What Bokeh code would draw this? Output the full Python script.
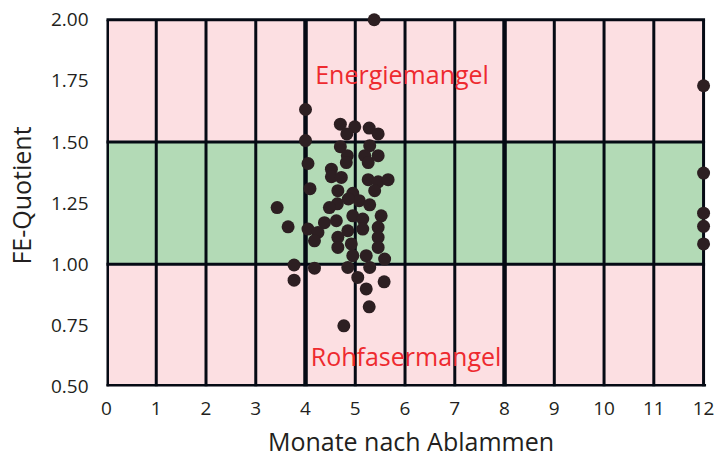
from bokeh.plotting import figure
from bokeh.models import ColumnDataSource, FixedTicker, NumeralTickFormatter
from bokeh.core.properties import value
from bokeh.embed import file_html
from bokeh.resources import INLINE

# Data: months after lambing vs. FE quotient
months = [5.38, 4.00, 4.00, 4.05, 4.09, 3.43, 3.65, 4.70, 4.99, 4.83, 5.28, 5.46,
          4.70, 5.29, 4.84, 4.82, 5.19, 5.26, 5.46, 4.52, 4.52, 4.72, 5.26, 5.46,
          5.66, 5.39, 4.65, 4.95, 5.08, 4.86, 4.64, 4.48, 5.29, 4.95, 5.15, 5.52,
          4.38, 4.62, 4.05, 4.25, 4.18, 4.65, 4.85, 5.15, 5.46, 4.65, 4.92, 5.46,
          5.46, 4.95, 5.22, 5.59, 3.77, 3.77, 4.18, 4.85, 5.29, 5.05, 5.58, 5.22,
          5.28, 4.77, 12.0, 12.0, 12.0, 12.0, 12.0]
fe_quotient = [2.00, 1.633, 1.506, 1.412, 1.309, 1.232, 1.153, 1.573, 1.562, 1.533, 1.557, 1.533,
               1.481, 1.485, 1.444, 1.416, 1.444, 1.416, 1.444, 1.389, 1.358, 1.355, 1.346, 1.337,
               1.346, 1.301, 1.301, 1.290, 1.260, 1.267, 1.247, 1.232, 1.243, 1.198, 1.185, 1.198,
               1.170, 1.178, 1.144, 1.130, 1.096, 1.110, 1.137, 1.144, 1.151, 1.069, 1.083, 1.110,
               1.069, 1.035, 1.035, 1.021, 0.997, 0.935, 0.984, 0.987, 0.987, 0.946, 0.928, 0.899,
               0.826, 0.748, 1.730, 1.373, 1.209, 1.155, 1.083]

x_ticks = list(range(0, 13))
y_ticks = [0.50, 0.75, 1.00, 1.25, 1.50, 1.75, 2.00]
zone_bottom = [0.5, 1.0, 1.5]
zone_top = [1.0, 1.5, 2.0]
zone_colors = ["#fcdfe2", "#b3dab6", "#fcdfe2"]
h_lines = [0.5, 1.0, 1.5, 2.0]
zone_labels = ["Energiemangel", "Rohfasermangel"]

FONT = "Open Sans"
TXT = "#231f20"
LINE = "#050a14"

X0, X1 = 0, 12
Y0, Y1 = 0.5, 2.0

# ranges extended past 12 / 2.0 so that edge markers are not clipped
p = figure(width=715, height=461, x_range=(X0, 12.24), y_range=(Y0, 2.0624),
           output_backend="svg", toolbar_location=None,
           min_border_left=105, min_border_right=0, min_border_top=4, min_border_bottom=75)

p.quad(left=[X0] * 3, right=[X1] * 3, bottom=zone_bottom, top=zone_top,
       fill_color=zone_colors, line_color=None)

vw = [5 if m == 0 else (4.5 if m in (4, 8) else 3) for m in x_ticks]
p.segment(x0=x_ticks, y0=[Y0] * len(x_ticks), x1=x_ticks, y1=[Y1] * len(x_ticks),
          line_color=LINE, line_width=vw)
hw = [5 if h == Y0 else 3 for h in h_lines]
p.segment(x0=[X0] * len(h_lines), y0=h_lines, x1=[X1] * len(h_lines), y1=h_lines,
          line_color=LINE, line_width=hw, line_cap="square")

src = ColumnDataSource(dict(x=months, y=fe_quotient))
p.scatter("x", "y", source=src, size=13, fill_color="#2d1f22", line_color=None)

p.text(x=[5.94, 6.02], y=[1.779, 0.626], text=zone_labels,
       text_font=value(FONT), text_font_size="25px", text_color="#ee2a2f",
       text_align="center", text_baseline="middle")

p.outline_line_color = None
p.xgrid.visible = False
p.ygrid.visible = False

for ax in (p.xaxis, p.yaxis):
    ax.axis_line_color = None
    ax.major_tick_line_color = None
    ax.minor_tick_line_color = None
    ax.major_label_text_font = FONT
    ax.major_label_text_font_size = "19px"
    ax.major_label_text_color = TXT
    ax.axis_label_text_font = FONT
    ax.axis_label_text_font_size = "25px"
    ax.axis_label_text_font_style = "normal"
    ax.axis_label_text_color = TXT

p.xaxis.ticker = FixedTicker(ticks=x_ticks)
p.yaxis.ticker = FixedTicker(ticks=y_ticks)
p.yaxis.formatter = NumeralTickFormatter(format="0.00")
p.xaxis.axis_label = "Monate nach Ablammen"
p.yaxis.axis_label = "FE-Quotient"
p.xaxis.major_label_standoff = 9
p.yaxis.major_label_standoff = 12
p.xaxis.axis_label_standoff = 6
p.yaxis.axis_label_standoff = 10

p.background_fill_color = "white"
p.border_fill_color = "white"

open("out.html", "w").write(file_html(p, INLINE))
